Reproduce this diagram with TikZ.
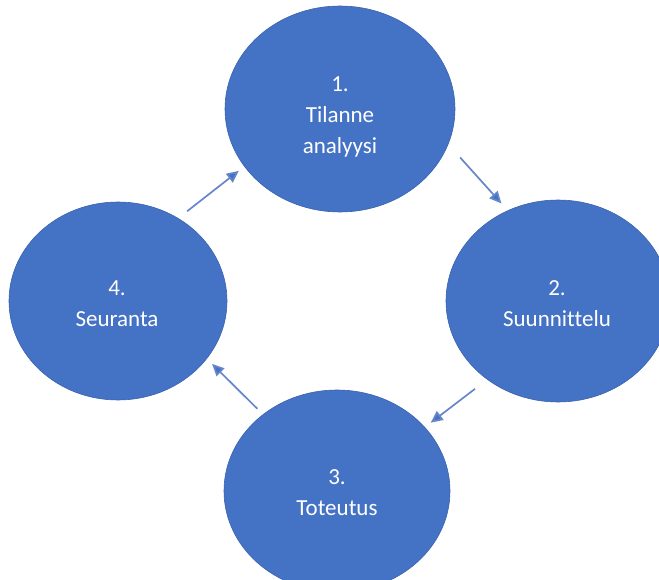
\documentclass[tikz,border=0pt]{standalone}
\usepackage{fontspec}
\setmainfont{Carlito}[Ligatures={NoCommon}]
\usetikzlibrary{shapes.geometric,arrows.meta}
\definecolor{offblue}{HTML}{4472C4}
\definecolor{offedge}{HTML}{3A63AD}
\definecolor{arrowcol}{HTML}{6686CC}
\tikzset{
  phase/.style={ellipse, fill=offblue, draw=offedge, line width=0.6pt,
    inner sep=0pt, outer sep=0pt, minimum width=224pt, minimum height=202pt},
  phasetext/.style={text=white, align=center, inner sep=0pt,
    font=\fontsize{23pt}{31pt}\selectfont},
  flow/.style={draw=arrowcol, line width=1.7pt,
    -{Triangle[length=12pt,width=11pt,fill=offblue]}}
}
\begin{document}
\begin{tikzpicture}[x=1pt,y=-1pt]
\useasboundingbox (0,0) rectangle (659,580);
\clip (0,0) rectangle (659,580);
\node[phase, minimum width=230pt, minimum height=206pt] (top) at (340,109) {};
\node[phase] (right) at (558,301) {};
\node[phase, minimum width=226pt] (bottom) at (337,491) {};
\node[phase, minimum width=218pt, minimum height=198pt] (left) at (118,301) {};
\node[phasetext] (toptext) at (340,117) {1.\\Tilanne\\analyysi};
\node[phasetext] (righttext) at (557,304) {2.\\Suunnittelu};
\node[phasetext] (bottomtext) at (337,493) {3.\\Toteutus};
\node[phasetext] (lefttext) at (117,304) {4.\\Seuranta};
\draw[flow, shorten <=11.6pt, shorten >=7.3pt] (left.54) -- (top.211);
\draw[flow, shorten <=18pt, shorten >=9.7pt] (top.342) -- (right.119);
\draw[flow, shorten <=15.6pt, shorten >=7.6pt] (right.228) -- (bottom.36);
\draw[flow, shorten <=8.2pt, shorten >=7.6pt] (bottom.134) -- (left.327);
\end{tikzpicture}
\end{document}
